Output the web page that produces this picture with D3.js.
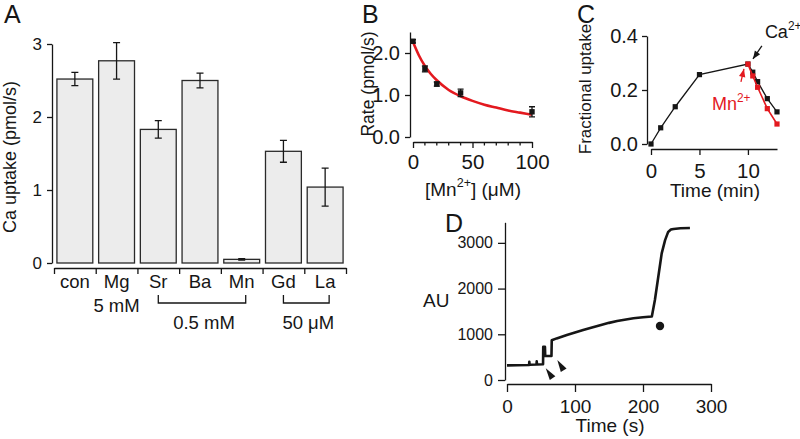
<!DOCTYPE html>
<html><head><meta charset="utf-8">
<script src="https://cdn.jsdelivr.net/npm/d3@7"></script>
<style>
body{margin:0;background:#fff}
svg{display:block}
text{font-family:"Liberation Sans",Arial,Helvetica,sans-serif;fill:#161616}
</style>
</head><body>
<svg id="c" width="800" height="439"></svg>
<script>
// ---------- Panel A data ----------
const catsA = ["con","Mg","Sr","Ba","Mn","Gd","La"];
const valsA = [2.52,2.77,1.83,2.50,0.05,1.53,1.04];
const errA  = [0.09,0.25,0.12,0.10,0.01,0.15,0.26];
const ticksA = [0,1,2,3];
const groupNamesA = ["5 mM","0.5 mM","50 μM"];
const groupFromA = ["Mg","Sr","Gd"];
const groupToA   = ["Mg","Mn","La"];
// ---------- Panel B data ----------
const concB = [0,10,20,40,100];
const rateB = [2.28,1.62,1.26,1.05,0.60];
const errB  = [0.04,0.07,0.05,0.09,0.12];
const fitConcB = [0,5,10,15,20,30,40,50,60,70,80,90,100];
const fitRateB = [2.26,1.94,1.69,1.50,1.35,1.12,0.97,0.86,0.77,0.70,0.63,0.58,0.53];
const ticksBy = [0,1,2];
const ticksBx = [0,50,100];
const minorBx = [10,20,30,40,60,70,80,90];
// ---------- Panel C data ----------
const timeCa = [0,1,2.5,5,10,10.5,11,12,13];
const upCa   = [0,0.06,0.138,0.257,0.296,0.266,0.231,0.168,0.119];
const timeMn = [10,10.5,11,12,13];
const upMn   = [0.296,0.252,0.21,0.131,0.074];
const ticksCy = [0,0.2,0.4];
const ticksCx = [0,5,10];
// ---------- Panel D data ----------
const timeD = [0,15,32.5,32.8,33.2,43.4,43.7,44.1,53,53.3,55.8,56.2,65.4,65.8,73,88,100,112,125,137,150,162,175,186,200,213,217.5,222.5,227.5,232.5,237,241,245,255,269];
const auD   = [320,322,328,400,332,338,410,340,345,725,725,525,525,870,910,985,1040,1095,1150,1200,1250,1290,1325,1350,1372,1390,1750,2260,2770,3060,3240,3290,3305,3320,3326];
const dotD = [225,1182];
const arrowTipT = [57,74], arrowTipV = [256,437];
const arrowTailT = [67.2,83.8], arrowTailV = [37,204];
const ticksDy = [0,1000,2000,3000];
const ticksDx = [0,100,200,300];

const INK = "#161616", RED = "#e3191f";
const svg = d3.select("#c");

function styleAxis(g, size){
  g.attr("font-family", null).attr("font-size", null).attr("color", INK);
  g.selectAll("path,line").attr("stroke-width", 1.3);
  g.selectAll("text").style("font-size", size + "px");
  return g;
}
function rich(g, x, y, parts, size, anchor, color, rot){
  const t = g.append("text").attr("font-size", size).attr("text-anchor", anchor || "start")
    .style("fill", color || INK);
  if (rot) t.attr("transform", `translate(${x},${y}) rotate(-90)`);
  else t.attr("x", x).attr("y", y);
  let up = false;
  parts.forEach(p => {
    const s = t.append("tspan").text(p[0]);
    if (p[1] && !up) { s.attr("dy", -0.45*size).attr("font-size", size*0.66); up = true; }
    else if (p[1]) { s.attr("font-size", size*0.66); }
    else if (up) { s.attr("dy", 0.45*size); up = false; }
  });
  return t;
}
function arrowHead(g, x1, y1, x2, y2, len, hw, color){
  const a = Math.atan2(y2-y1, x2-x1);
  const bx = x2 - len*Math.cos(a), by = y2 - len*Math.sin(a);
  const px = -Math.sin(a)*hw, py = Math.cos(a)*hw;
  g.append("path").attr("d", `M${x2},${y2}L${bx+px},${by+py}L${bx-px},${by-py}Z`).attr("fill", color);
}

// ================= Panel A =================
const gA = svg.append("g");
const yA = d3.scaleLinear().domain([0,3]).range([263,44]);
const xA = d3.scaleBand().domain(catsA).range([54,346]).paddingInner(0.14).paddingOuter(0.07);
const idxA = d3.scaleLinear().domain([0,catsA.length]).range([54,346]);
const cA = c => xA(c) + xA.bandwidth()/2;

gA.selectAll("rect.bar").data(catsA).join("rect").attr("class","bar")
  .attr("x", c => xA(c)).attr("y", (c,i) => yA(valsA[i]))
  .attr("width", xA.bandwidth()).attr("height", (c,i) => yA(0) - yA(valsA[i]))
  .attr("fill", "#ececec").attr("stroke", "#2a2a2a").attr("stroke-width", 1.3);
catsA.forEach((c,i) => {
  const x = cA(c), y1 = yA(valsA[i]-errA[i]), y2 = yA(valsA[i]+errA[i]);
  gA.append("path").attr("d", `M${x},${y1}V${y2}M${x-3.5},${y1}H${x+3.5}M${x-3.5},${y2}H${x+3.5}`)
    .attr("stroke", INK).attr("stroke-width", 1.3).attr("fill","none");
});
styleAxis(gA.append("g").attr("transform","translate(52,0)")
  .call(d3.axisLeft(yA).tickValues(ticksA).tickSize(5).tickSizeOuter(0).tickPadding(5).tickFormat(d3.format("d"))), 17);
styleAxis(gA.append("g").attr("transform","translate(0,268)")
  .call(d3.axisBottom(idxA).tickValues(d3.range(catsA.length+1)).tickSize(6).tickSizeOuter(0).tickFormat("")), 18);
gA.selectAll("text.cat").data(catsA).join("text").attr("class","cat")
  .attr("x", c => cA(c)).attr("y", 288).attr("text-anchor","middle").attr("font-size",18.5).text(c => c);
groupNamesA.forEach((name,i) => {
  const x1 = cA(groupFromA[i]), x2 = cA(groupToA[i]);
  if (x1 === x2) {
    gA.append("text").attr("x", x1).attr("y", 312).attr("text-anchor","middle").attr("font-size",18.5).text(name);
  } else {
    gA.append("path").attr("d", `M${x1},295V303H${x2+4}V295`).attr("fill","none").attr("stroke",INK).attr("stroke-width",1.3);
    gA.append("text").attr("x", (x1+x2+4)/2 + 2).attr("y", 329).attr("text-anchor","middle").attr("font-size",18.5).text(name);
  }
});
rich(gA, 16, 157, [["Ca uptake (pmol/s)"]], 18, "middle", INK, true);
gA.append("text").attr("x", 4).attr("y", 23).attr("font-size", 25).text("A");

// ================= Panel B =================
const gB = svg.append("g");
const xB = d3.scaleLinear().domain([0,100]).range([413,532]);
const yB = d3.scaleLinear().domain([0,2.5]).range([137,32]);
styleAxis(gB.append("g").attr("transform","translate(410,0)")
  .call(d3.axisLeft(yB).tickValues(ticksBy).tickSize(5).tickSizeOuter(0).tickPadding(5)), 20);
const axBx = styleAxis(gB.append("g").attr("transform","translate(0,142)")
  .call(d3.axisBottom(xB).tickValues(ticksBx).tickSize(6).tickSizeOuter(0)), 20.5);
axBx.selectAll("text").attr("dy", null).attr("y", 27);
gB.append("g").selectAll("line").data(minorBx).join("line")
  .attr("x1", d => xB(d)).attr("x2", d => xB(d)).attr("y1", 142).attr("y2", 145.5)
  .attr("stroke", INK).attr("stroke-width", 1.3);
gB.append("path").datum(fitConcB.map((c,i) => [c, fitRateB[i]]))
  .attr("d", d3.line().x(d => xB(d[0])).y(d => yB(d[1])).curve(d3.curveMonotoneX))
  .attr("fill","none").attr("stroke", RED).attr("stroke-width", 2.6);
concB.forEach((c,i) => {
  const x = xB(c), y1 = yB(rateB[i]-errB[i]), y2 = yB(rateB[i]+errB[i]);
  gB.append("path").attr("d", `M${x},${y1}V${y2}M${x-3},${y1}H${x+3}M${x-3},${y2}H${x+3}`)
    .attr("stroke", INK).attr("stroke-width", 1.3).attr("fill","none");
  gB.append("rect").attr("x", x-2.7).attr("y", yB(rateB[i])-2.7).attr("width",5.4).attr("height",5.4).attr("fill", INK);
});
rich(gB, 374, 84, [["Rate (pmol/s)"]], 17.5, "middle", INK, true);
rich(gB, 473, 196, [["[Mn"],["2+",true],["] (μM)"]], 19, "middle");
gB.append("text").attr("x", 362).attr("y", 23).attr("font-size", 25).text("B");

// ================= Panel C =================
const gC = svg.append("g");
const xC = d3.scaleLinear().domain([0,13]).range([651,777]);
const yC = d3.scaleLinear().domain([0,0.4]).range([144,36]);
styleAxis(gC.append("g").attr("transform","translate(647,0)")
  .call(d3.axisLeft(yC).tickValues(ticksCy).tickSize(5).tickSizeOuter(0).tickPadding(4).tickFormat(d3.format(".1f"))), 20);
const axCx = styleAxis(gC.append("g").attr("transform","translate(0,149)")
  .call(d3.axisBottom(xC).tickValues(ticksCx).tickSize(6).tickSizeOuter(0)), 20.5);
axCx.selectAll("text").attr("dy", null).attr("y", 29);
const lineC = d3.line().x(d => xC(d[0])).y(d => yC(d[1]));
const ptsCa = timeCa.map((t,i) => [t, upCa[i]]);
const ptsMn = timeMn.map((t,i) => [t, upMn[i]]);
gC.append("path").datum(ptsCa).attr("d", lineC).attr("fill","none").attr("stroke", INK).attr("stroke-width",1.3);
gC.selectAll("rect.ca").data(ptsCa).join("rect").attr("class","ca")
  .attr("x", d => xC(d[0])-2.6).attr("y", d => yC(d[1])-2.6).attr("width",5.2).attr("height",5.2).attr("fill", INK);
gC.append("path").datum(ptsMn).attr("d", lineC).attr("fill","none").attr("stroke", RED).attr("stroke-width",1.6);
gC.selectAll("rect.mn").data(ptsMn).join("rect").attr("class","mn")
  .attr("x", d => xC(d[0])-2.6).attr("y", d => yC(d[1])-2.6).attr("width",5.2).attr("height",5.2).attr("fill", RED);
rich(gC, xC(11.75), yC(0.393), [["Ca"],["2+",true]], 18, "start", INK);
gC.append("line").attr("x1", xC(11.44)).attr("y1", yC(0.363)).attr("x2", xC(10.52)).attr("y2", yC(0.315)).attr("stroke", INK).attr("stroke-width",1.3);
arrowHead(gC, xC(11.44), yC(0.363), xC(10.52), yC(0.315), 8, 3.2, INK);
rich(gC, xC(6.29), yC(0.126), [["Mn"],["2+",true]], 18, "start", RED);
gC.append("line").attr("x1", xC(9.28)).attr("y1", yC(0.23)).attr("x2", xC(9.59)).attr("y2", yC(0.278)).attr("stroke", RED).attr("stroke-width",1.3);
arrowHead(gC, xC(9.28), yC(0.23), xC(9.59), yC(0.278), 8, 3.2, RED);
rich(gC, 591, 89, [["Fractional uptake"]], 17, "middle", INK, true);
gC.append("text").attr("x", 715).attr("y", 197).attr("text-anchor","middle").attr("font-size",19).text("Time (min)");
gC.append("text").attr("x", 577).attr("y", 23).attr("font-size", 25).text("C");

// ================= Panel D =================
const gD = svg.append("g");
const xD = d3.scaleLinear().domain([0,300]).range([507,711]);
const yD = d3.scaleLinear().domain([0,3450]).range([380,222.3]);
styleAxis(gD.append("g").attr("transform","translate(505,0)")
  .call(d3.axisLeft(yD).tickValues(ticksDy).tickSize(7).tickSizeOuter(0).tickPadding(5).tickFormat(d3.format("d"))), 16);
const axDx = styleAxis(gD.append("g").attr("transform","translate(0,384)")
  .call(d3.axisBottom(xD).tickValues(ticksDx).tickSize(8).tickSizeOuter(0)), 19);
axDx.selectAll("text").attr("dy", null).attr("y", 29);
gD.append("path").datum(timeD.map((t,i) => [t, auD[i]]))
  .attr("d", d3.line().x(d => xD(d[0])).y(d => yD(d[1])))
  .attr("fill","none").attr("stroke", INK).attr("stroke-width", 2.6).attr("stroke-linejoin","round");
gD.append("circle").attr("cx", xD(dotD[0])).attr("cy", yD(dotD[1])).attr("r", 4.2).attr("fill", INK);
arrowTipT.forEach((t,i) => {
  arrowHead(gD, xD(arrowTailT[i]), yD(arrowTailV[i]), xD(t), yD(arrowTipV[i]), 12, 3.4, INK);
});
gD.append("text").attr("x", 423).attr("y", 307).attr("font-size", 19).text("AU");
gD.append("text").attr("x", 610).attr("y", 432).attr("text-anchor","middle").attr("font-size",19).text("Time (s)");
gD.append("text").attr("x", 445).attr("y", 232).attr("font-size", 25).text("D");
</script>
</body></html>
